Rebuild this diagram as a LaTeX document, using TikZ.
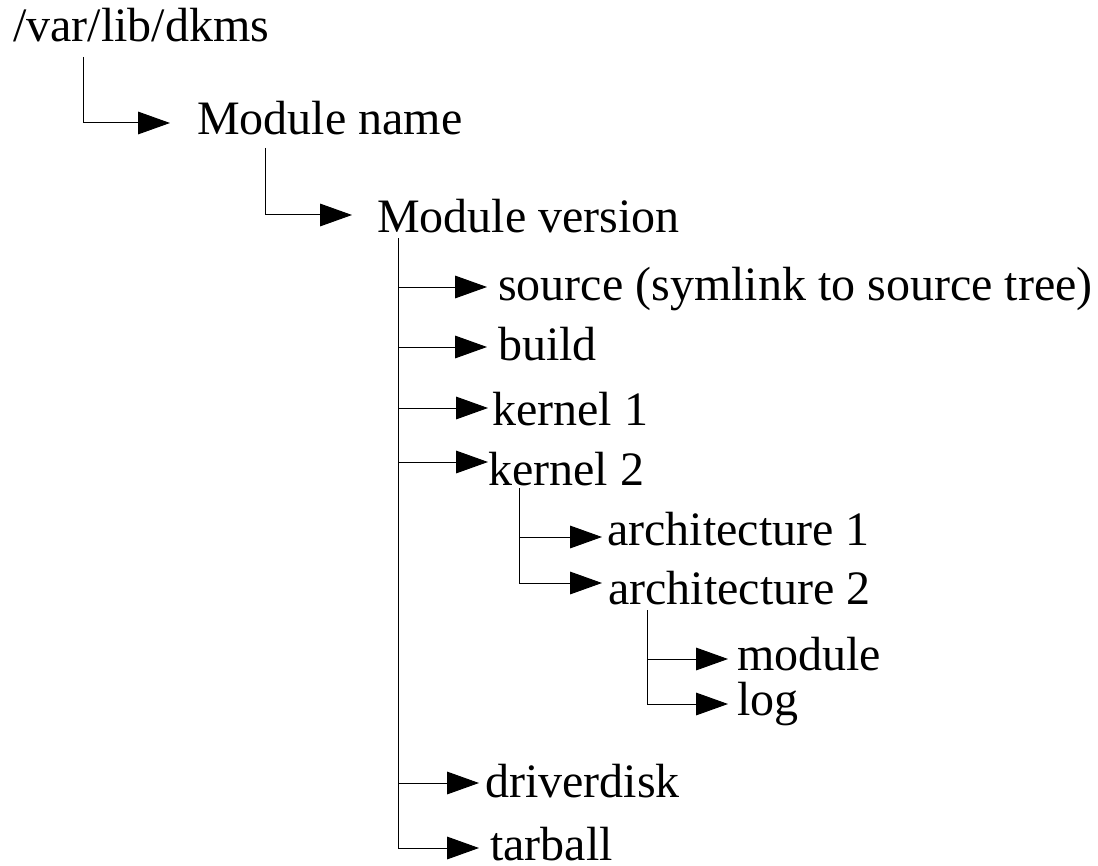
\documentclass[tikz,border=0pt]{standalone}
\usepackage{fontspec}
\setmainfont{Liberation Serif}
\usepackage{tikz}
\usetikzlibrary{arrows.meta, calc}
\tikzset{
	>={Triangle[length=24pt, width=17pt]},
	% voce dell'albero (cartella)
	cartella/.style={anchor=base west, inner sep=0pt, font=\fontsize{36}{43}\selectfont},
	% ramo con freccia
	ramo/.style={->, line width=0.75pt},
}

\begin{document}
\begin{tikzpicture}[x=0.75pt, y=-0.75pt]
    \useasboundingbox (0,0) rectangle (1098,866);

    % cartelle
    \node[cartella] (dkms) at (13,42) {/var/lib/dkms};
    \node[cartella] (nome) at (197,135) {Module name};
    \node[cartella] (versione) at (377,233) {Module version};
    \node[cartella] (source) at (498,300) {source (symlink to source tree)};
    \node[cartella] (build) at (498,360) {build};
    \node[cartella] (kuno) at (492,425) {kernel 1};
    \node[cartella] (kdue) at (488,485) {kernel 2};
    \node[cartella] (archuno) at (607,545) {architecture 1};
    \node[cartella] (archdue) at (608,604) {architecture 2};
    \node[cartella] (modulo) at (737,670) {module};
    \node[cartella] (log) at (737,715) {log};
    \node[cartella] (driverdisk) at (485,797) {driverdisk};
    \node[cartella] (tarball) at (490,860) {tarball};

    % /var/lib/dkms -> Module name
    \coordinate (rdkms) at ($(dkms.base west)+(70,15)$);
    \draw[ramo] (rdkms) |- ($(nome.base west)+(-27,-12)$);

    % Module name -> Module version
    \coordinate (rnome) at ($(nome.base west)+(68,13)$);
    \draw[ramo] (rnome) |- ($(versione.base west)+(-25,-18)$);

    % Module version -> sottocartelle
    \coordinate (rvers) at ($(versione.base west)+(21,5)$);
    \draw[ramo] (rvers) |- ($(source.base west)+(-11,-13)$);
    \draw[ramo] (rvers) |- ($(build.base west)+(-11,-13)$);
    \draw[ramo] (rvers) |- ($(kuno.base west)+(-4,-17)$);
    \draw[ramo] (rvers) |- ($(kdue.base west)+(0,-23)$);
    \draw[ramo] (rvers) |- ($(driverdisk.base west)+(-6,-14)$);
    \draw[ramo] (rvers) |- ($(tarball.base west)+(-11,-12)$);

    % kernel 2 -> architetture
    \coordinate (rkdue) at ($(kdue.base west)+(31,3)$);
    \draw[ramo] (rkdue) |- ($(archuno.base west)+(-5,-8)$);
    \draw[ramo] (rkdue) |- ($(archdue.base west)+(-6,-21)$);

    % architecture 2 -> module, log
    \coordinate (rarch) at ($(archdue.base west)+(39,6)$);
    \draw[ramo] (rarch) |- ($(modulo.base west)+(-9,-11)$);
    \draw[ramo] (rarch) |- ($(log.base west)+(-9,-11)$);
\end{tikzpicture}
\end{document}
